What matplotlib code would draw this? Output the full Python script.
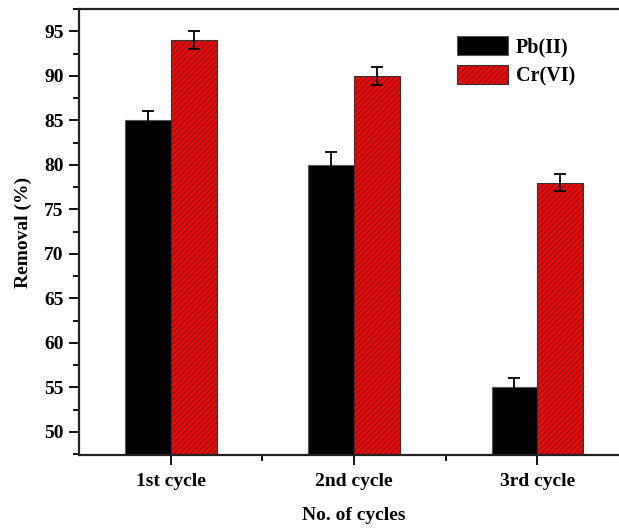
import matplotlib.pyplot as plt
import numpy as np
from matplotlib.ticker import MultipleLocator, FixedLocator

plt.rcParams['font.family'] = ['Liberation Serif', 'DejaVu Serif']
plt.rcParams['font.weight'] = 'bold'
plt.rcParams['hatch.linewidth'] = 0.6

cycles = ["1st cycle", "2nd cycle", "3rd cycle"]
pb_removal = [85, 80, 55]
pb_err = [1.0, 1.4, 1.1]
cr_removal = [94, 90, 78]
cr_err = [1.0, 1.0, 1.0]

fig = plt.figure(figsize=(6.19, 5.28), dpi=100)
# axes runs past the right edge of the figure
ax = fig.add_axes([79/619, 1 - 455/528, 550/619, 446/528])

x = np.arange(1, len(cycles) + 1)
w = 0.25
ax.bar(x - w/2, pb_removal, w, color="black", edgecolor="#555555", linewidth=0.8,
       yerr=pb_err, error_kw=dict(ecolor="black", capsize=4, elinewidth=1.3, capthick=1.3),
       label="Pb(II)")
ax.bar(x + w/2, cr_removal, w, color="#ff0000", edgecolor="#333333", linewidth=0.8,
       hatch="//////", yerr=cr_err,
       error_kw=dict(ecolor="black", capsize=4, elinewidth=1.3, capthick=1.3),
       label="Cr(VI)")

ax.set_xlim(0.5, 3.5)
ax.set_ylim(47.4, 97.5)
ax.set_xticks(x)
ax.set_xticklabels(cycles, fontsize=14, fontweight="bold")
ax.xaxis.set_minor_locator(FixedLocator([1.5, 2.5]))
ax.yaxis.set_major_locator(MultipleLocator(5))
ax.yaxis.set_minor_locator(MultipleLocator(2.5))
ax.tick_params(axis="both", which="major", direction="out", length=7, width=1.3,
               labelsize=14, pad=4)
ax.tick_params(axis="x", which="major", pad=6)
ax.tick_params(axis="both", which="minor", direction="out", length=4, width=1.3)
for lbl in ax.get_yticklabels():
    lbl.set_fontweight("bold")

for side in ["left", "bottom", "top", "right"]:
    ax.spines[side].set_linewidth(1.6)
    ax.spines[side].set_color("#222222")

ax.set_ylabel("Removal (%)", fontsize=14, fontweight="bold", labelpad=9)
ax.set_xlabel("No. of cycles", fontsize=14, fontweight="bold", labelpad=12)

ax.legend(loc="upper left", bbox_to_anchor=(0.655, 0.98), frameon=False,
          handlelength=2.5, handleheight=1.1, handletextpad=0.4,
          labelspacing=0.35, prop={"weight": "bold", "size": 14.5})

fig.savefig("out.png", dpi=100)
